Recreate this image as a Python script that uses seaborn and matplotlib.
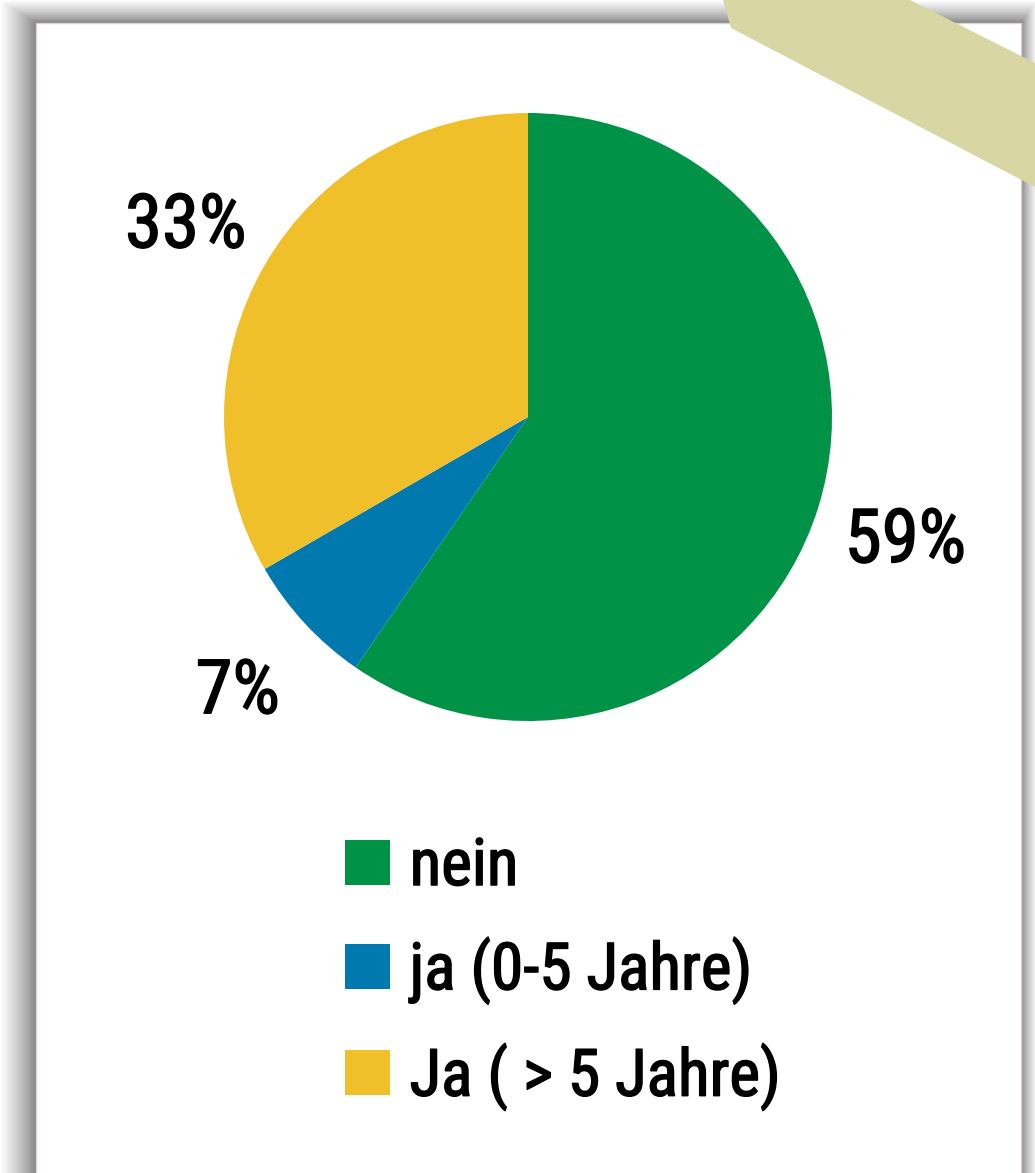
import matplotlib
matplotlib.use("Agg")
import matplotlib.pyplot as plt
import matplotlib.patheffects as pe
import seaborn as sns
from matplotlib import font_manager
from matplotlib.patches import Rectangle, Polygon

# Daten
answers = ["nein", "ja (0-5 Jahre)", "Ja ( > 5 Jahre)"]
shares = [59, 7, 33]
colors = ["#009246", "#0079ae", "#f0c02a"]

sns.set_theme(style="white")

# schmale Schrift suchen, sonst DejaVu
installed = {f.name for f in font_manager.fontManager.ttflist}
narrow = "DejaVu Sans"
for fam in ["Roboto Condensed", "Liberation Sans Narrow", "DejaVu Sans Condensed", "Open Sans Condensed"]:
    if fam in installed:
        narrow = fam
        break
plt.rcParams["font.family"] = [narrow, "DejaVu Sans"]
plt.rcParams["text.color"] = "black"

# etwas kräftiger als "normal"
thicker = [pe.withStroke(linewidth=1.1, foreground="black")]

W, H = 1035, 1173
fig = plt.figure(figsize=(W / 100, H / 100), dpi=100)
fig.patch.set_facecolor("white")

# Hintergrund: Karte mit Schatten und Klebeband
bg = fig.add_axes([0, 0, 1, 1])
bg.set_xlim(0, W)
bg.set_ylim(H, 0)
bg.axis("off")

left, top, right = 36, 23, 1021
n = 36
for k in range(n, 0, -1):
    t = k / n
    g = 0.5 + 0.5 * t ** 0.8
    bg.add_patch(Rectangle((left - 36 * t, top - 23 * t), (right - left) + 36 * t + 16 * t,
                           H + 50, facecolor=(g, g, g), edgecolor="none", zorder=1))
bg.add_patch(Rectangle((left, top), right - left, H + 50, facecolor="white",
                       edgecolor="#ddd2d2", linewidth=1, zorder=2))
bg.add_patch(Polygon([(723, 0), (731, 28), (1035, 187), (1035, 63), (910, 0)],
                     closed=True, facecolor="#d8d6a3", edgecolor="none", zorder=3))

# Tortendiagramm
cx, cy, r = 528, 417, 304
ax = fig.add_axes([(cx - r) / W, (H - cy - r) / H, 2 * r / W, 2 * r / H])
total = sum(shares)
wedges, _, pct_texts = ax.pie(
    shares, colors=colors, startangle=90, counterclock=False,
    autopct=lambda p: f"{p * total / 100:.0f}%", pctdistance=1.3,
    wedgeprops=dict(linewidth=0),
    textprops=dict(fontsize=54, fontweight="normal", color="black"),
)
for t in pct_texts:
    t.set_va("center_baseline")
    t.set_path_effects(thicker)
ax.set_xlim(-1, 1)
ax.set_ylim(-1, 1)
ax.set_aspect("equal")

leg = ax.legend(wedges, answers, loc="upper left",
                bbox_to_anchor=(345 / W, 1 - 836 / H), bbox_transform=fig.transFigure,
                frameon=False, prop=dict(size=47, weight="normal"), labelcolor="black",
                handlelength=0.69, handleheight=0.69, handletextpad=0.3,
                labelspacing=0.6, borderpad=0, borderaxespad=0)
for t in leg.get_texts():
    t.set_path_effects(thicker)

fig.savefig("out.png", dpi=100, facecolor="white")
